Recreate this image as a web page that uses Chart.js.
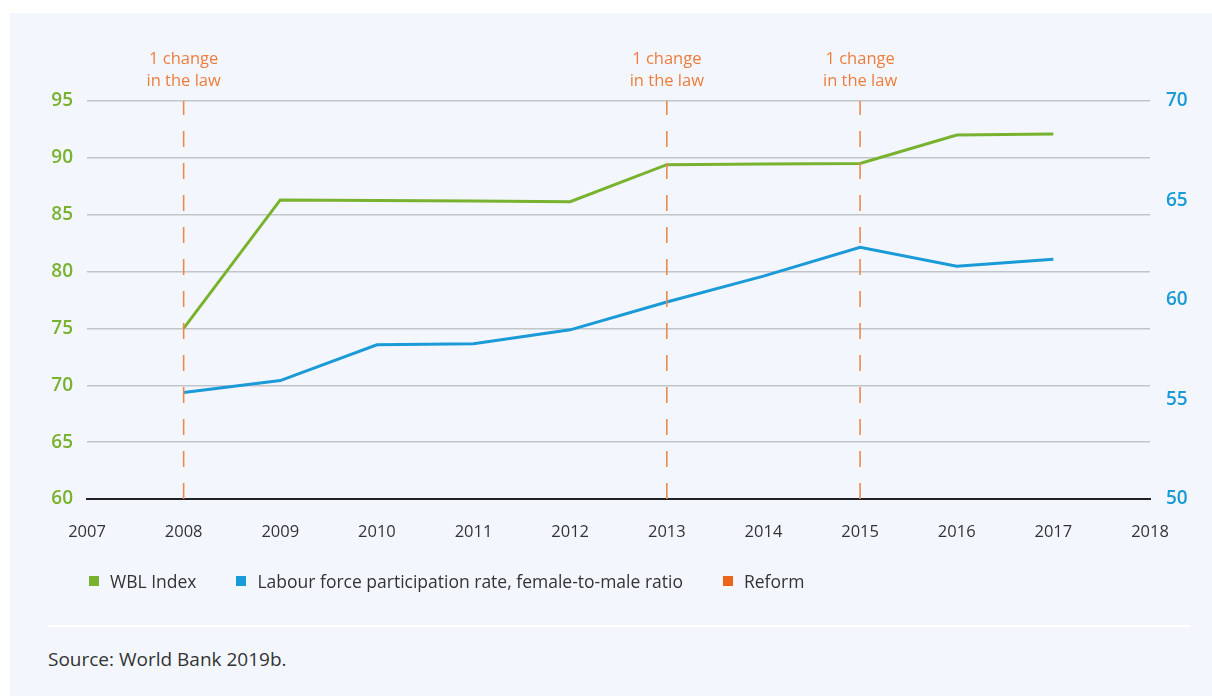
<!DOCTYPE html>
<html>
<head>
<meta charset="utf-8">
<script src="https://cdn.jsdelivr.net/npm/chart.js@4.4.1/dist/chart.umd.min.js"></script>
<style>
  html, body { margin: 0; padding: 0; background: #ffffff; }
  body { width: 1212px; height: 696px; position: relative; overflow: hidden; font-family: "Open Sans", "Noto Sans", sans-serif; }
  #panel { position: absolute; left: 10px; top: 13px; width: 1202px; height: 683px; background: #f3f7fd; }
  #wrap { position: absolute; left: 0; top: 0; width: 1212px; height: 600px; }
  #legend { position: absolute; top: 569px; left: 89px; display: flex; align-items: center; font-size: 17.5px; color: #333; }
  #legend .item { display: flex; align-items: center; margin-right: 40px; }
  #legend .sw { width: 10px; height: 10px; margin-right: 11px; }
  #sep { position: absolute; left: 48px; top: 625px; width: 1142px; height: 2px; background: #ffffff; }
  #source { position: absolute; left: 48px; top: 646px; font-size: 19px; color: #333; }
</style>
</head>
<body>
<div id="panel"></div>
<div id="wrap"><canvas id="c" width="1212" height="600"></canvas></div>
<div id="legend"></div>
<div id="sep"></div>
<div id="source">Source: World Bank 2019b.</div>
<script>
const years = [2008, 2009, 2010, 2011, 2012, 2013, 2014, 2015, 2016, 2017];
const wblIndex = [75.0, 86.3, 86.25, 86.2, 86.15, 89.4, 89.45, 89.5, 92.0, 92.1];
const labourRatio = [55.35, 55.95, 57.75, 57.8, 58.5, 59.9, 61.2, 62.65, 61.7, 62.05];
const reformYears = [2008, 2013, 2015];
const reformLabel = ["1 change", "in the law"];
const xTicks = [2007, 2008, 2009, 2010, 2011, 2012, 2013, 2014, 2015, 2016, 2017, 2018];
const leftTicks = [60, 65, 70, 75, 80, 85, 90, 95];
const rightTicks = [50, 55, 60, 65, 70];
const legendLabels = ["WBL Index", "Labour force participation rate, female-to-male ratio", "Reform"];

const GREEN = "#78b22e", BLUE = "#1a9ad6", ORANGE = "#ec8a4e", ORANGE_SW = "#e8651a";

const reformSets = reformYears.map(y => ({
  label: "Reform " + y,
  data: [{x: y, y: leftTicks[0]}, {x: y, y: leftTicks[leftTicks.length - 1]}],
  yAxisID: "yL",
  borderColor: ORANGE,
  borderWidth: 1.6,
  borderDash: [16, 16],
  pointRadius: 0,
  fill: false
}));

const annot = {
  id: "annot",
  afterDatasetsDraw(chart) {
    const ctx = chart.ctx, xs = chart.scales.x;
    ctx.save();
    ctx.fillStyle = "#ee7d3c";
    ctx.font = "16.5px 'Open Sans', sans-serif";
    ctx.textAlign = "center";
    ctx.textBaseline = "middle";
    reformYears.forEach(y => {
      const px = xs.getPixelForValue(y);
      ctx.fillText(reformLabel[0], px, 59);
      ctx.fillText(reformLabel[1], px, 81);
    });
    ctx.restore();
  }
};

new Chart(document.getElementById("c"), {
  type: "line",
  data: {
    datasets: [
      ...reformSets,
      { label: legendLabels[0], data: years.map((y, i) => ({x: y, y: wblIndex[i]})), yAxisID: "yL",
        borderColor: GREEN, borderWidth: 3, pointRadius: 0, fill: false, tension: 0 },
      { label: legendLabels[1], data: years.map((y, i) => ({x: y, y: labourRatio[i]})), yAxisID: "yR",
        borderColor: BLUE, borderWidth: 3, pointRadius: 0, fill: false, tension: 0 }
    ]
  },
  options: {
    responsive: false,
    animation: false,
    layout: { padding: { top: 101, left: 0, right: 0, bottom: 0 } },
    plugins: { legend: { display: false }, tooltip: { enabled: false } },
    scales: {
      x: {
        type: "linear", min: 2007, max: 2018,
        afterBuildTicks: s => { s.ticks = xTicks.map(v => ({value: v})); },
        ticks: { callback: v => String(v), color: "#333", font: { size: 16.5, family: "'Open Sans', sans-serif" }, padding: 23, maxRotation: 0 },
        grid: { display: false, drawTicks: false },
        border: { color: "#222", width: 2 },
        afterFit: s => { s.height = 101; }
      },
      yL: {
        position: "left", min: 60, max: 95,
        afterBuildTicks: s => { s.ticks = leftTicks.map(v => ({value: v})); },
        ticks: { color: GREEN, font: { size: 19, weight: "600", family: "'Open Sans', sans-serif" }, padding: 14 },
        grid: { color: "#c2c4c8", lineWidth: 1.5, drawTicks: false },
        border: { display: false },
        afterFit: s => { s.width = 87; }
      },
      yR: {
        position: "right", min: 50, max: 70,
        afterBuildTicks: s => { s.ticks = rightTicks.map(v => ({value: v})); },
        ticks: { color: BLUE, font: { size: 19, weight: "600", family: "'Open Sans', sans-serif" }, padding: 16 },
        grid: { display: false, drawTicks: false },
        border: { display: false },
        afterFit: s => { s.width = 62; }
      }
    }
  },
  plugins: [annot]
});

const lg = document.getElementById("legend");
[GREEN, BLUE, ORANGE_SW].forEach((c, i) => {
  const it = document.createElement("div");
  it.className = "item";
  it.innerHTML = '<span class="sw" style="background:' + c + '"></span><span>' + legendLabels[i] + '</span>';
  lg.appendChild(it);
});
</script>
</body>
</html>
